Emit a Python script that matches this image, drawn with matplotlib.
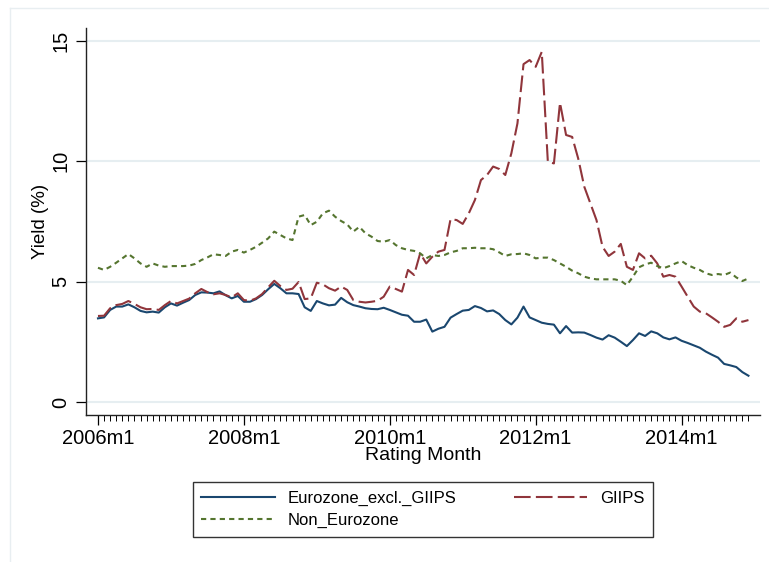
import matplotlib
matplotlib.use('Agg')
import matplotlib.pyplot as plt
import numpy as np
import pandas as pd

plt.rcParams['font.family'] = ['Liberation Sans', 'DejaVu Sans']

# monthly observations 2006m1 .. 2014m12
months = pd.period_range('2006-01', '2014-12', freq='M')

eurozone_excl_giips = [
  3.47, 3.51, 3.82, 3.96, 3.96, 4.05, 3.93, 3.78, 3.72, 3.75, 3.71, 3.93,
  4.09, 4.00, 4.12, 4.23, 4.44, 4.55, 4.54, 4.51, 4.59, 4.43, 4.30, 4.40,
  4.16, 4.16, 4.27, 4.44, 4.68, 4.90, 4.72, 4.51, 4.51, 4.48, 3.93, 3.78,
  4.19, 4.09, 4.01, 4.04, 4.32, 4.14, 4.02, 3.96, 3.89, 3.86, 3.85, 3.91,
  3.82, 3.72, 3.62, 3.58, 3.33, 3.33, 3.42, 2.92, 3.04, 3.12, 3.50, 3.65,
  3.79, 3.82, 3.98, 3.90, 3.76, 3.80, 3.65, 3.40, 3.22, 3.50, 3.96, 3.51,
  3.40, 3.29, 3.24, 3.21, 2.85, 3.15, 2.88, 2.89, 2.88, 2.78, 2.67, 2.59,
  2.77, 2.67, 2.50, 2.32, 2.57, 2.85, 2.74, 2.93, 2.85, 2.68, 2.60, 2.68,
  2.54, 2.45, 2.35, 2.25, 2.09, 1.96, 1.84, 1.58, 1.52, 1.45, 1.24, 1.09]

giips = [
  3.57, 3.58, 3.89, 4.02, 4.07, 4.19, 4.07, 3.93, 3.85, 3.86, 3.82, 4.02,
  4.19, 4.09, 4.19, 4.29, 4.51, 4.69, 4.56, 4.47, 4.51, 4.44, 4.34, 4.51,
  4.23, 4.20, 4.30, 4.48, 4.76, 5.03, 4.81, 4.65, 4.70, 4.98, 4.27, 4.30,
  4.95, 4.88, 4.72, 4.62, 4.79, 4.65, 4.23, 4.16, 4.13, 4.16, 4.20, 4.37,
  4.79, 4.69, 4.58, 5.48, 5.27, 6.17, 5.75, 6.03, 6.24, 6.31, 7.59, 7.55,
  7.39, 7.83, 8.38, 9.21, 9.42, 9.77, 9.67, 9.42, 10.32, 11.56, 14.02, 14.19,
  13.91, 14.53, 9.97, 9.90, 12.42, 11.08, 11.00, 10.10, 8.93, 8.24, 7.55, 6.44,
  6.06, 6.24, 6.56, 5.61, 5.48, 6.17, 5.96, 6.07, 5.75, 5.20, 5.27, 5.20,
  4.79, 4.37, 3.96, 3.75, 3.68, 3.51, 3.33, 3.12, 3.20, 3.47, 3.33, 3.40]

non_eurozone = [
  5.57, 5.48, 5.61, 5.78, 5.96, 6.14, 5.96, 5.75, 5.61, 5.75, 5.66, 5.61,
  5.64, 5.64, 5.64, 5.66, 5.73, 5.89, 6.00, 6.13, 6.10, 6.06, 6.24, 6.31,
  6.20, 6.31, 6.44, 6.61, 6.79, 7.07, 6.93, 6.79, 6.72, 7.69, 7.76, 7.34,
  7.48, 7.83, 7.94, 7.69, 7.51, 7.37, 7.07, 7.27, 7.00, 6.86, 6.68, 6.65,
  6.72, 6.51, 6.38, 6.31, 6.27, 6.17, 5.96, 6.10, 6.06, 6.10, 6.21, 6.27,
  6.38, 6.38, 6.40, 6.38, 6.38, 6.34, 6.21, 6.06, 6.13, 6.14, 6.17, 6.10,
  5.96, 5.99, 5.99, 5.89, 5.75, 5.61, 5.45, 5.34, 5.20, 5.13, 5.09, 5.09,
  5.09, 5.09, 5.03, 4.85, 5.20, 5.59, 5.71, 5.78, 5.64, 5.55, 5.64, 5.75,
  5.85, 5.68, 5.57, 5.48, 5.34, 5.27, 5.31, 5.27, 5.37, 5.17, 5.02, 5.13]

y_ticks = [0, 5, 10, 15]
x_tick_years = [2006, 2008, 2010, 2012, 2014]

W, H = 769, 562
fig = plt.figure(figsize=(W / 100, H / 100), dpi=100)
ax = fig.add_axes([86 / W, 1 - 415 / H, 674 / W, 387 / H])

x = np.arange(len(months))
l1, = ax.plot(x, eurozone_excl_giips, color='#1a476f', lw=1.5, label='Eurozone_excl._GIIPS')
l2, = ax.plot(x, giips, color='#90353b', lw=1.5, dashes=(8, 2.5), label='GIIPS')
l3, = ax.plot(x, non_eurozone, color='#55752f', lw=1.5, dashes=(2.5, 2), label='Non_Eurozone')

ax.set_xlim(-1.97, 108.9)
ax.set_ylim(-0.54, 15.52)

for v in y_ticks:
  ax.axhline(v, color='#e6eef1', lw=1.5, zorder=0)

ax.set_yticks(y_ticks)
ax.set_yticklabels([str(v) for v in y_ticks], rotation=90, va='center')
major = [months.get_loc(pd.Period(f'{y}-01', freq='M')) for y in x_tick_years]
ax.set_xticks(major)
ax.set_xticklabels([f'{y}m1' for y in x_tick_years])
ax.set_xticks(x, minor=True)
ax.tick_params(axis='both', which='major', length=7, width=0.9, labelsize=14.5, colors='black', pad=3)
ax.tick_params(axis='x', which='minor', length=4, width=0.7)
ax.tick_params(axis='y', pad=4)

for side in ['top', 'right']:
  ax.spines[side].set_visible(False)
for side in ['left', 'bottom']:
  ax.spines[side].set_linewidth(1.0)
  ax.spines[side].set_color('#222222')

ax.set_xlabel('Rating Month', fontsize=14, labelpad=-1)
ax.set_ylabel('Yield (%)', fontsize=13.5, labelpad=2)

leg = fig.legend([l1, l3, l2], [l1.get_label(), l3.get_label(), l2.get_label()],
                 loc='center', bbox_to_anchor=(423 / W, 1 - 509.5 / H), ncol=2,
                 fontsize=12, handlelength=4.4, handletextpad=0.8, columnspacing=3.4,
                 labelspacing=0.45, borderpad=0.5, fancybox=False, framealpha=1,
                 edgecolor='#333333')
leg.get_frame().set_linewidth(1.0)

# faint outer graph-region border
fig.add_artist(plt.Line2D([10 / W, 10 / W], [0, 1 - 8 / H], color='#e8eef1', lw=1))
fig.add_artist(plt.Line2D([10 / W, 1], [1 - 8 / H, 1 - 8 / H], color='#e8eef1', lw=1))

fig.savefig('out.png', dpi=100)
